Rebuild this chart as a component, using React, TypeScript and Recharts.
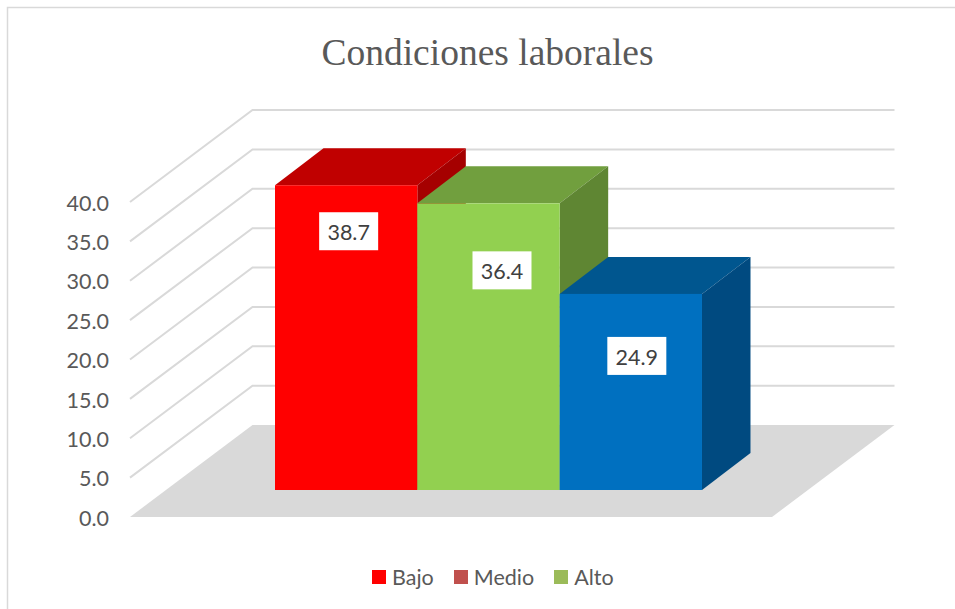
import React from "react";
import { ComposedChart, Bar, XAxis, YAxis, CartesianGrid, Legend, LabelList } from "recharts";

const categories = ["Condiciones laborales"];
const seriesNames = ["Bajo", "Medio", "Alto"];
const seriesValues = [38.7, 36.4, 24.9];
const yTicks = [0, 5, 10, 15, 20, 25, 30, 35, 40];
const legendColors = ["#FF0000", "#C0504D", "#9BBB59"];
const frontColors = ["#FF0000", "#92D050", "#0070C0"];
const topColors = ["#C00000", "#719F3E", "#00568F"];
const sideColors = ["#A50000", "#5F8633", "#004A80"];
const labelDx = [2.5, 13.5, 6];
const labelDy = [27, 48, 43];

const rows = categories.map((name) => {
  const r: Record<string, any> = { name };
  seriesNames.forEach((s, i) => (r[s] = seriesValues[i]));
  return r;
});

const W = 955;
const H = 609;
const FONT = "Lato, 'Open Sans', sans-serif";
const WALL_DX = 122.5;
const WALL_DY = 92;
const BAR_SHIFT_X = 37;
const BAR_SHIFT_Y = 27;
const BAR_DX = 48.5;
const BAR_DY = 37;
const LINE = "#D9D9D9";

const gridLine = (p: any) => {
  const { x1, x2, y1, index } = p;
  const bx = x1 + WALL_DX;
  const by = y1 - WALL_DY;
  if (Math.abs(y1 - 517) < 1) {
    return (
      <polygon
        key={`floor-${index}`}
        points={`${x1},${y1} ${x2},${y1} ${x2 + WALL_DX},${by} ${bx},${by}`}
        fill="#D9D9D9"
      />
    );
  }
  return (
    <path
      key={`wall-${index}`}
      d={`M${x1},${y1}L${bx},${by}L${x2 + WALL_DX},${by}`}
      fill="none"
      stroke={LINE}
      strokeWidth={2}
    />
  );
};

const box = (i: number) => (p: any) => {
  const x = p.x + BAR_SHIFT_X;
  const y = p.y - BAR_SHIFT_Y;
  const w = p.width;
  const h = p.height;
  return (
    <g>
      <polygon
        points={`${x},${y} ${x + w},${y} ${x + w + BAR_DX},${y - BAR_DY} ${x + BAR_DX},${y - BAR_DY}`}
        fill={topColors[i]}
      />
      <polygon
        points={`${x + w},${y} ${x + w + BAR_DX},${y - BAR_DY} ${x + w + BAR_DX},${y + h - BAR_DY} ${x + w},${y + h}`}
        fill={sideColors[i]}
      />
      <rect x={x} y={y} width={w} height={h} fill={frontColors[i]} />
    </g>
  );
};

const valueLabel = (i: number) => (p: any) => {
  const cx = p.x + BAR_SHIFT_X + p.width / 2 + labelDx[i];
  const top = p.y - BAR_SHIFT_Y + labelDy[i];
  return (
    <g>
      <rect x={cx - 29.5} y={top} width={59} height={38} fill="#FFFFFF" />
      <text
        x={cx}
        y={top + 20}
        textAnchor="middle"
        dominantBaseline="central"
        fontFamily={FONT}
        fontSize={21.5}
        fill="#404040"
      >
        {Number(p.value).toFixed(1)}
      </text>
    </g>
  );
};

const legendContent = (p: any) => (
  <div
    style={{
      display: "flex",
      justifyContent: "flex-start",
      gap: 20,
      fontFamily: FONT,
      fontSize: 21.5,
      color: "#595959",
      lineHeight: "24px",
    }}
  >
    {(p.payload || []).map((e: any) => (
      <div key={e.value} style={{ display: "flex", alignItems: "center", gap: 6 }}>
        <span style={{ display: "inline-block", width: 14, height: 14, background: e.color }} />
        <span>{e.value}</span>
      </div>
    ))}
  </div>
);

export default function App() {
  return (
    <div style={{ position: "absolute", left: 0, top: 0, width: W, height: H, background: "#FFFFFF" }}>
      <ComposedChart
        width={W}
        height={H}
        data={rows}
        margin={{ top: 202, right: 183, bottom: 68, left: 0 }}
        barGap={0}
        barSize={142.33}
      >
        <rect x={7.5} y={7.5} width={1000} height={700} fill="none" stroke={LINE} strokeWidth={1.5} />
        <text
          x={487.5}
          y={52}
          textAnchor="middle"
          dominantBaseline="central"
          fontFamily="'Liberation Serif', serif"
          fontSize={37.5}
          fill="#595959"
        >
          Condiciones laborales
        </text>
        <CartesianGrid vertical={false} horizontal={gridLine} />
        <XAxis dataKey="name" hide height={0} />
        <YAxis
          width={130}
          domain={[0, 40]}
          ticks={yTicks}
          axisLine={false}
          tickLine={false}
          tickSize={0}
          tickMargin={21}
          tickFormatter={(v: number) => v.toFixed(1)}
          tick={{ fontFamily: FONT, fontSize: 21.5, fill: "#595959", dy: 1 }}
        />
        <Legend
          content={legendContent}
          itemSorter={null}
          wrapperStyle={{ position: "absolute", left: 372, top: 565, width: 260 }}
        />
        {seriesNames.map((s, i) => (
          <Bar key={s} dataKey={s} fill={legendColors[i]} shape={box(i)} isAnimationActive={false}>
            <LabelList dataKey={s} content={valueLabel(i)} />
          </Bar>
        ))}
      </ComposedChart>
    </div>
  );
}
